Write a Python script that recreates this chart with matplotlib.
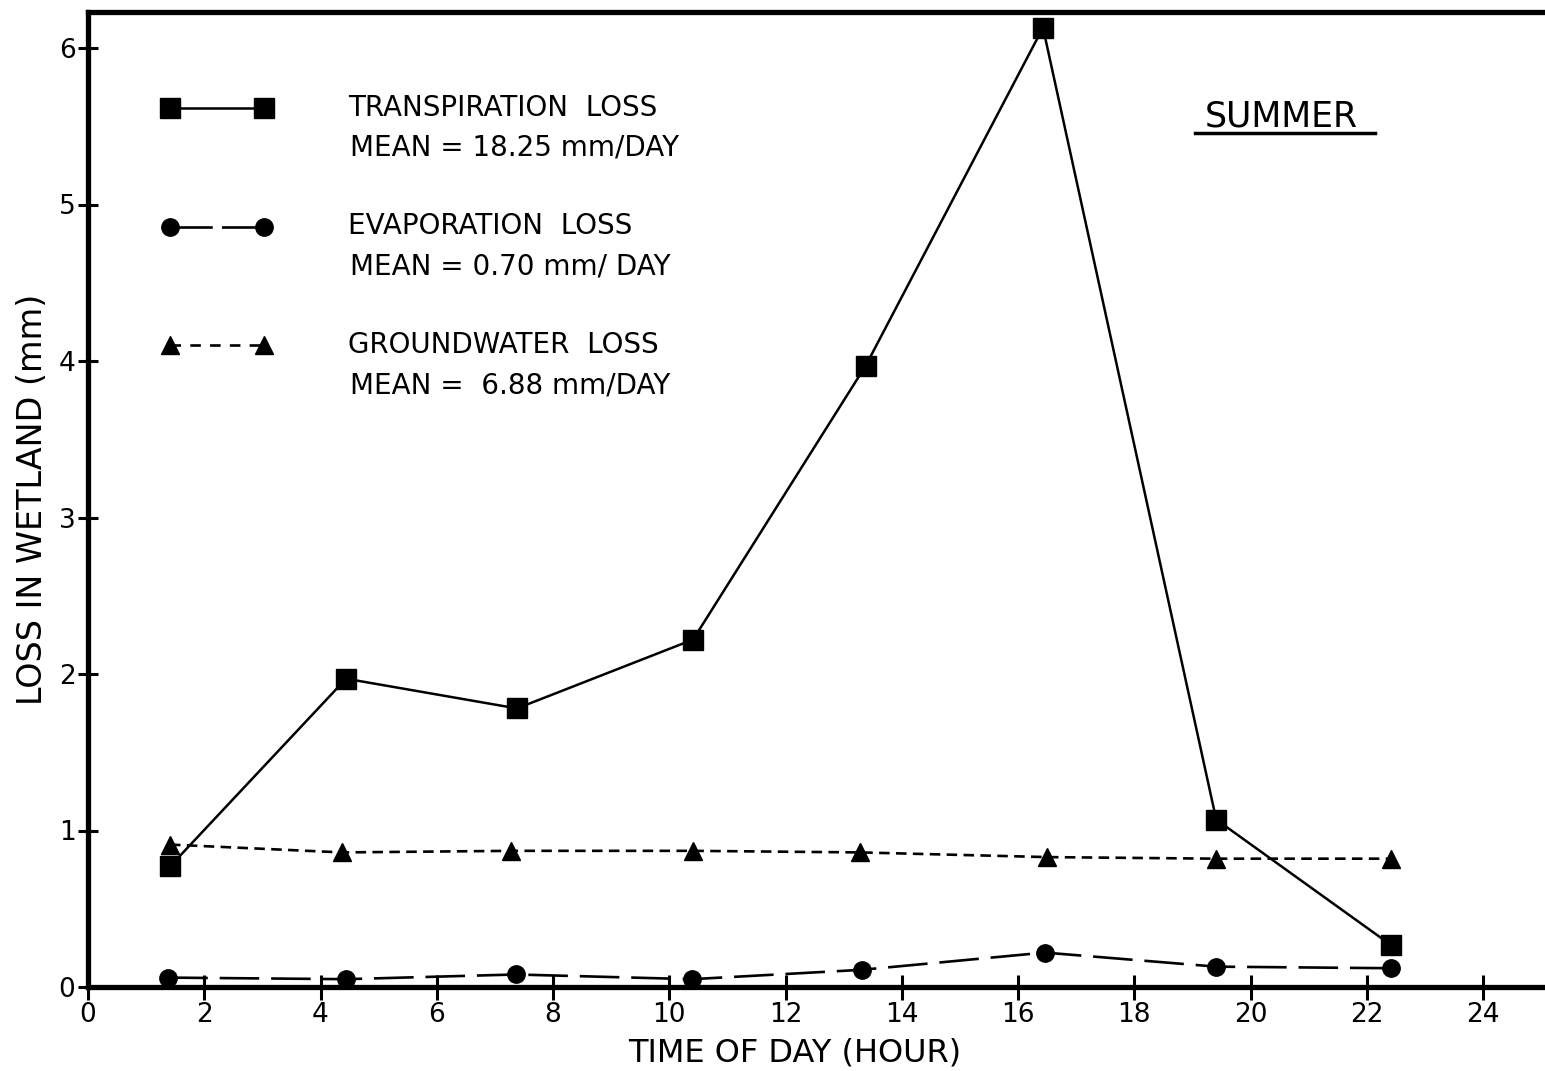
import matplotlib.pyplot as plt

# hourly water-loss measurements, summer
hours_tr = [1.41, 4.44, 7.38, 10.41, 13.38, 16.43, 19.41, 22.41]
transpiration = [0.77, 1.97, 1.78, 2.22, 3.97, 6.13, 1.07, 0.27]

hours_ev = [1.38, 4.44, 7.36, 10.39, 13.32, 16.46, 19.41, 22.41]
evaporation = [0.06, 0.05, 0.08, 0.05, 0.11, 0.22, 0.13, 0.12]

hours_gw = [1.41, 4.37, 7.27, 10.41, 13.28, 16.5, 19.41, 22.41]
groundwater = [0.91, 0.86, 0.87, 0.87, 0.86, 0.83, 0.82, 0.82]

x_ticks = list(range(0, 25, 2))
y_ticks = list(range(0, 7))

series_names = ["TRANSPIRATION  LOSS", "EVAPORATION  LOSS", "GROUNDWATER  LOSS"]
series_means = ["MEAN = 18.25 mm/DAY", "MEAN = 0.70 mm/ DAY", "MEAN =  6.88 mm/DAY"]

plt.rcParams['font.family'] = ['DejaVu Sans']

fig = plt.figure(figsize=(15.45, 10.71), dpi=100)
ax = fig.add_axes([88 / 1545, 1 - 987 / 1071, 1 - 88 / 1545, (987 - 12) / 1071])

ax.plot(hours_tr, transpiration, color='black', lw=1.8, marker='s', ms=15, clip_on=False)
ax.plot(hours_ev, evaporation, color='black', lw=1.9, dashes=(15, 4.5), marker='o', ms=12.5, clip_on=False)
ax.plot(hours_gw, groundwater, color='black', lw=1.9, dashes=(4, 2.4), marker='^', ms=13, clip_on=False)

ax.set_xlim(0, (1545 - 88) / 58.125)
ax.set_ylim(0, (987 - 12) / 156.5)
ax.set_xticks(x_ticks)
ax.set_yticks(y_ticks)
ax.tick_params(axis='x', direction='inout', length=18, width=2.2, labelsize=19, pad=2)
ax.tick_params(axis='y', direction='inout', length=14, width=2.2, labelsize=19, pad=2)

for side in ['left', 'top', 'bottom']:
    ax.spines[side].set_linewidth(3.8)
ax.spines['right'].set_visible(False)

ax.set_xlabel("TIME OF DAY (HOUR)", fontsize=23)
ax.xaxis.set_label_coords(0.485, -0.052)
ax.set_ylabel("LOSS IN WETLAND (mm)", fontsize=24)
ax.yaxis.set_label_coords(-0.027, 0.5)

# key samples and labels
key_rows = [0.902, 0.780, 0.658]
key_styles = [dict(marker='s', ms=15, ls='-', lw=1.8),
              dict(marker='o', ms=12.5, dashes=(16, 3.5), lw=1.9),
              dict(marker='^', ms=13, dashes=(4, 3.5), lw=1.9)]
for row, style, name, mean in zip(key_rows, key_styles, series_names, series_means):
    ax.plot([0.056, 0.121], [row, row], transform=ax.transAxes, color='black', clip_on=False, **style)
    ax.text(0.1785, row, name, transform=ax.transAxes, fontsize=20, va='center', ha='left')
    ax.text(0.18, row - 0.041, mean, transform=ax.transAxes, fontsize=20, va='center', ha='left')

ax.text(0.819, 0.893, "SUMMER", transform=ax.transAxes, fontsize=25, ha='center', va='center')
ax.plot([0.760, 0.883], [0.876, 0.876], transform=ax.transAxes, color='black', lw=2.5)

fig.savefig("out.png", dpi=100)
